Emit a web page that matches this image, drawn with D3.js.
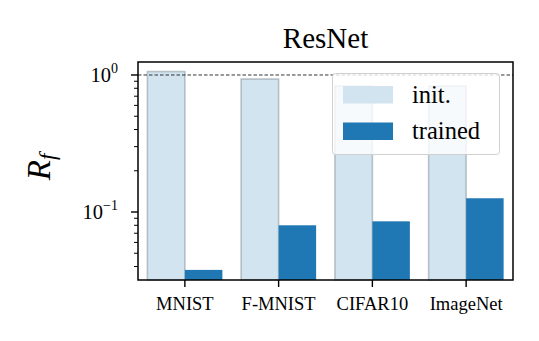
<!DOCTYPE html>
<html>
<head>
<meta charset="utf-8">
<script src="https://cdn.jsdelivr.net/npm/d3@7"></script>
<style>
  html, body { margin: 0; padding: 0; background: #fff; }
  svg text { font-family: "Liberation Serif", "DejaVu Serif", serif; fill: #000; }
</style>
</head>
<body>
<svg id="chart" width="539" height="341"></svg>
<script>
// Fraction of frozen units R_f per dataset, ResNet, before and after training
const datasets = ["MNIST", "F-MNIST", "CIFAR10", "ImageNet"];
const seriesNames = ["init.", "trained"];
const initValues = [1.06, 0.935, 0.83, 0.83];
const trainedValues = [0.0378, 0.080, 0.0855, 0.126];
const yTickValues = [1, 0.1];
const yTickExponents = ["0", "\u22121"];
const yDomain = [0.0319, 1.244];
const referenceLevel = 1;

const svg = d3.select("#chart");
const plot = { left: 138, right: 513, top: 62, bottom: 280 };

const colors = { "init.": "#d2e4f0", "trained": "#1f77b4" };

const x = d3.scaleBand().domain(datasets).range([plot.left, plot.right])
  .paddingInner(0.2).paddingOuter(0.1);
const xSub = d3.scaleBand().domain(seriesNames).range([0, x.bandwidth()]);
const y = d3.scaleLog().domain(yDomain).range([plot.bottom, plot.top]);

const rows = datasets.map((d, i) => ({ name: d, "init.": initValues[i], "trained": trainedValues[i] }));

// bars
const groups = svg.append("g").selectAll("g").data(rows).join("g")
  .attr("transform", d => `translate(${x(d.name)},0)`);

groups.append("rect")
  .attr("x", xSub("init."))
  .attr("width", xSub.bandwidth())
  .attr("y", d => y(d["init."]))
  .attr("height", d => plot.bottom - y(d["init."]))
  .attr("fill", colors["init."])
  .attr("stroke", "rgba(120,130,140,0.45)")
  .attr("stroke-width", 1.6);

groups.append("rect")
  .attr("x", xSub("trained"))
  .attr("width", xSub.bandwidth())
  .attr("y", d => y(d["trained"]))
  .attr("height", d => plot.bottom - y(d["trained"]))
  .attr("fill", colors["trained"]);

// reference line at R_f = 1
svg.append("line")
  .attr("x1", plot.left).attr("x2", plot.right)
  .attr("y1", y(referenceLevel)).attr("y2", y(referenceLevel))
  .attr("stroke", "#000").attr("stroke-width", 0.8)
  .attr("stroke-dasharray", "3.5,2");

// y axis: major ticks with power labels, minor ticks in between
const yMinor = [];
for (let e = -2; e <= 0; e++) {
  for (let m = 2; m <= 9; m++) {
    const v = m * Math.pow(10, e);
    if (v >= yDomain[0] && v <= yDomain[1]) yMinor.push(v);
  }
}
const yAxis = svg.append("g");
yAxis.selectAll("line.minor").data(yMinor).join("line")
  .attr("class", "minor")
  .attr("x1", plot.left - 4).attr("x2", plot.left)
  .attr("y1", d => y(d)).attr("y2", d => y(d))
  .attr("stroke", "#000").attr("stroke-width", 1);
yAxis.selectAll("line.major").data(yTickValues).join("line")
  .attr("class", "major")
  .attr("x1", plot.left - 7).attr("x2", plot.left)
  .attr("y1", d => y(d)).attr("y2", d => y(d))
  .attr("stroke", "#000").attr("stroke-width", 1.4);
const yLabels = yAxis.selectAll("text").data(yTickValues).join("text")
  .attr("x", plot.left - 20)
  .attr("y", d => y(d) + 7)
  .attr("text-anchor", "end")
  .attr("font-size", 20.5);
yLabels.append("tspan").text("10");
yLabels.append("tspan").attr("dy", -9).attr("font-size", 14).text((d, i) => yTickExponents[i]);

// x axis ticks and labels
const xAxis = svg.append("g");
xAxis.selectAll("line").data(datasets).join("line")
  .attr("x1", d => x(d) + x.bandwidth() / 2).attr("x2", d => x(d) + x.bandwidth() / 2)
  .attr("y1", plot.bottom).attr("y2", plot.bottom + 7)
  .attr("stroke", "#000").attr("stroke-width", 1.4);
xAxis.selectAll("text").data(datasets).join("text")
  .attr("x", d => x(d) + x.bandwidth() / 2)
  .attr("y", plot.bottom + 30)
  .attr("text-anchor", "middle")
  .attr("font-size", 18.5)
  .text(d => d);

// frame
svg.append("rect")
  .attr("x", plot.left).attr("y", plot.top)
  .attr("width", plot.right - plot.left).attr("height", plot.bottom - plot.top)
  .attr("fill", "none").attr("stroke", "#000").attr("stroke-width", 1.5);

// title
svg.append("text")
  .attr("x", (plot.left + plot.right) / 2).attr("y", 48)
  .attr("text-anchor", "middle").attr("font-size", 29)
  .text("ResNet");

// y label R_f
const yl = svg.append("text")
  .attr("transform", `translate(50,${(plot.top + plot.bottom) / 2 - 4}) rotate(-90)`)
  .attr("text-anchor", "middle")
  .attr("font-size", 33).attr("font-style", "italic");
yl.append("tspan").text("R");
yl.append("tspan").attr("dy", 5).attr("font-size", 23).text("f");

// legend
const legend = svg.append("g");
legend.append("rect")
  .attr("x", 332.5).attr("y", 73.5).attr("width", 167).attr("height", 81)
  .attr("rx", 3).attr("ry", 3)
  .attr("fill", "rgba(255,255,255,0.8)")
  .attr("stroke", "#d0d0d0").attr("stroke-width", 1);
seriesNames.forEach((s, i) => {
  const cy = 94.5 + i * 36.5;
  legend.append("rect")
    .attr("x", 343).attr("y", cy - 8.5).attr("width", 50).attr("height", 17.5)
    .attr("fill", colors[s]);
  legend.append("text")
    .attr("x", 412).attr("y", cy + 8)
    .attr("font-size", 24.5)
    .text(s);
});
</script>
</body>
</html>
